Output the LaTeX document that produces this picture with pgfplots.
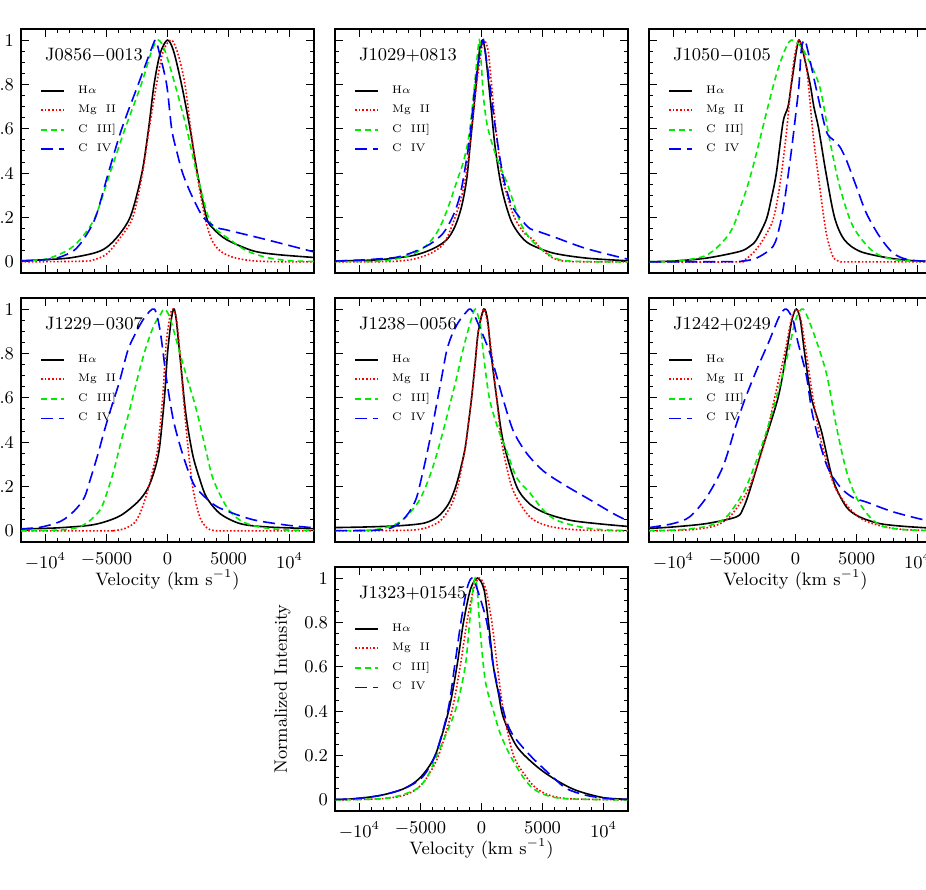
\documentclass[border=0pt]{standalone}
\usepackage{pgfplots}
\pgfplotsset{compat=1.18}
\definecolor{cg}{RGB}{0,235,0}
\pgfplotsset{
  panel/.style={
    scale only axis, width=146.5pt, height=122pt,
    xmin=-12000, xmax=12000, ymin=-0.05, ymax=1.05,
    xtick={-10000,-5000,0,5000,10000},
    xticklabels={$-10^4$,$-5000$,$0$,$5000$,$10^4$},
    ytick={0,0.2,0.4,0.6,0.8,1},
    yticklabels={0,0.2,0.4,0.6,0.8,1},
    minor x tick num=4, minor y tick num=3,
    tick align=inside, xtick pos=both, ytick pos=both,
    major tick length=4pt, minor tick length=2pt,
    axis line style={line width=0.6pt}, every tick/.style={black,line width=0.5pt},
    tick label style={font=\fontsize{9}{10}\selectfont},
    xticklabel style={yshift=-2pt},
    label style={font=\fontsize{9}{10}\selectfont},
    xlabel style={yshift=7pt},
    scaled x ticks=false,
    legend style={at={(rel axis cs:0.065,0.785)}, anchor=north west, draw=none, fill=none,
      font=\fontsize{5.5}{6}\selectfont, row sep=0.3pt, inner sep=0pt},
    legend cell align=left,
    legend image code/.code={\draw[##1] (0pt,0pt) -- (11.5pt,0pt);},
    /tikz/every odd column/.style={column sep=4.5pt},
  },
  nox/.style={xticklabels={}},
  noy/.style={yticklabels={}},
  ha/.style={black, line width=0.8pt, smooth, tension=0.5},
  mg/.style={red, line width=0.8pt, densely dotted, smooth, tension=0.5},
  c3/.style={cg, line width=0.8pt, dash pattern=on 3pt off 2pt, smooth, tension=0.5},
  c4/.style={blue, line width=0.8pt, dash pattern=on 6pt off 3pt, smooth, tension=0.5},
}
\newcommand{\ttl}[1]{\node[anchor=west,font=\fontsize{9}{10}\selectfont] at (rel axis cs:0.058,0.893) {#1};}
\newcommand{\leg}{\legend{H$\alpha$,Mg~~II,C~~III],C~~IV}}
\begin{document}
\begin{tikzpicture}
\useasboundingbox (0,0) rectangle (463pt,444.5pt);
\clip (0,0) rectangle (463pt,444.5pt);

% ---------------- J0856-0013
\begin{axis}[panel, nox, at={(10.5pt,430pt)}, anchor=north west]
\addplot[ha] coordinates {(-12000,0.005) (-10000,0.01) (-8000,0.018) (-6000,0.04) (-5000,0.065) (-4000,0.12) (-3000,0.21) (-2100,0.4) (-1550,0.6) (-1100,0.8) (-600,0.94) (0,1) (500,0.95) (1150,0.8) (1850,0.6) (2450,0.4) (3200,0.2) (3750,0.15) (4850,0.1) (7000,0.05) (9000,0.033) (12000,0.02)};
\addplot[mg] coordinates {(-12000,0) (-7000,0.003) (-6000,0.01) (-5000,0.035) (-4000,0.1) (-2850,0.2) (-2050,0.4) (-1500,0.6) (-900,0.8) (-350,0.95) (340,1) (900,0.93) (1430,0.8) (1900,0.6) (2400,0.4) (3070,0.2) (3620,0.1) (4300,0.05) (5400,0.02) (7000,0.005) (9000,0.001) (12000,0)};
\addplot[c3] coordinates {(-12000,0.005) (-10000,0.012) (-8265,0.05) (-7170,0.1) (-5940,0.2) (-4710,0.4) (-3480,0.6) (-2150,0.8) (-1300,0.95) (-750,1) (-200,0.95) (615,0.8) (1570,0.6) (2390,0.4) (3350,0.2) (3900,0.15) (5120,0.1) (6490,0.05) (8130,0.02) (10040,0.005) (12000,0.002)};
\addplot[c4] coordinates {(-12000,0.004) (-10000,0.01) (-8900,0.02) (-7700,0.05) (-6900,0.1) (-5900,0.2) (-4850,0.4) (-3750,0.6) (-2400,0.8) (-1250,0.97) (-970,1) (-700,0.95) (-70,0.8) (340,0.6) (750,0.5) (1240,0.4) (1980,0.3) (2940,0.2) (4030,0.155) (4850,0.144) (8130,0.1) (12000,0.045)};
\leg
\ttl{J0856$-$0013}
\end{axis}

% ---------------- J1029+0813
\begin{axis}[panel, nox, noy, at={(167.5pt,430pt)}, anchor=north west]
\addplot[ha] coordinates {(-12000,0.004) (-10500,0.006) (-8320,0.01) (-5590,0.029) (-3950,0.06) (-2850,0.1) (-2170,0.16) (-1630,0.25) (-1220,0.37) (-940,0.52) (-670,0.67) (-400,0.82) (-150,0.96) (96,1) (300,0.95) (560,0.82) (830,0.67) (1110,0.52) (1520,0.37) (1930,0.27) (2470,0.18) (3160,0.12) (3970,0.08) (5860,0.04) (8600,0.017) (12000,0.005)};
\addplot[mg] coordinates {(-12000,0) (-8000,0.001) (-6950,0.003) (-5590,0.012) (-4300,0.035) (-3400,0.065) (-2900,0.1) (-2300,0.18) (-1700,0.28) (-1250,0.4) (-820,0.6) (-410,0.8) (0,0.96) (220,1) (550,0.95) (820,0.8) (1170,0.6) (1640,0.4) (2100,0.3) (2700,0.2) (3500,0.13) (4230,0.1) (4770,0.065) (5860,0.017) (7200,0.002) (12000,0)};
\addplot[c3] coordinates {(-12000,0.001) (-8320,0.003) (-6950,0.014) (-5590,0.036) (-4500,0.074) (-3680,0.13) (-3130,0.19) (-2580,0.27) (-2040,0.36) (-1490,0.45) (-1080,0.55) (-800,0.67) (-530,0.82) (-180,1) (10,0.87) (150,0.75) (420,0.63) (830,0.54) (1380,0.45) (2060,0.36) (2610,0.27) (3160,0.18) (3700,0.125) (4230,0.09) (5320,0.04) (6400,0.01) (8000,0.002) (12000,0)};
\addplot[c4] coordinates {(-12000,0.004) (-10000,0.008) (-8320,0.014) (-6950,0.021) (-5590,0.044) (-4230,0.08) (-3130,0.13) (-2310,0.21) (-1760,0.3) (-1350,0.42) (-940,0.57) (-670,0.72) (-400,0.85) (96,1) (300,0.95) (680,0.8) (1145,0.6) (1720,0.4) (2180,0.3) (2610,0.24) (3420,0.18) (3970,0.15) (4500,0.14) (5860,0.114) (8590,0.06) (12000,0.012)};
\leg
\ttl{J1029+0813}
\end{axis}

% ---------------- J1050-0105
\begin{axis}[panel, nox, noy, at={(324.5pt,430pt)}, anchor=north west]
\addplot[ha] coordinates {(-12000,0.001) (-10000,0.004) (-7300,0.017) (-4570,0.047) (-3750,0.07) (-3200,0.1) (-2400,0.19) (-2000,0.28) (-1570,0.4) (-1020,0.63) (-610,0.7) (-340,0.8) (70,0.95) (290,1) (600,0.95) (1200,0.8) (1500,0.7) (1900,0.6) (2500,0.4) (3200,0.2) (4000,0.1) (5300,0.047) (7710,0.017) (10000,0.004) (12000,0.002)};
\addplot[mg] coordinates {(-12000,0) (-5000,0) (-4300,0.005) (-3480,0.04) (-2660,0.1) (-1840,0.19) (-1300,0.34) (-750,0.58) (-200,0.88) (290,1) (890,0.88) (1430,0.58) (1980,0.34) (2520,0.13) (3070,0.024) (3620,0.002) (4500,0) (12000,0)};
\addplot[c3] coordinates {(-12000,0.001) (-10000,0.003) (-7300,0.03) (-5390,0.13) (-4300,0.28) (-3480,0.43) (-2120,0.73) (-1430,0.87) (-750,0.97) (-340,1) (300,0.98) (890,0.93) (1980,0.79) (2800,0.55) (3620,0.34) (4710,0.16) (6350,0.047) (7990,0.012) (10000,0.002) (12000,0.001)};
\addplot[c4] coordinates {(-12000,0) (-6000,0.001) (-4570,0.002) (-3200,0.017) (-1840,0.07) (-1300,0.16) (-890,0.28) (-340,0.5) (70,0.69) (290,0.8) (480,0.96) (750,1) (1020,0.95) (1700,0.78) (2520,0.59) (3100,0.55) (3620,0.52) (4160,0.46) (4980,0.34) (5800,0.22) (6890,0.114) (7990,0.04) (9080,0.012) (10500,0.003) (12000,0.001)};
\leg
\ttl{J1050$-$0105}
\end{axis}

% ---------------- J1229-0307
\begin{axis}[panel, at={(10.5pt,295.5pt)}, anchor=north west, xlabel={Velocity (km s$^{-1}$)}]
\addplot[ha] coordinates {(-12000,0.009) (-9280,0.013) (-6550,0.024) (-5180,0.04) (-3820,0.07) (-2450,0.13) (-1630,0.19) (-1080,0.27) (-670,0.37) (-250,0.6) (0,0.8) (330,0.96) (530,1) (700,0.96) (890,0.86) (1160,0.71) (1430,0.56) (1710,0.45) (2120,0.33) (2660,0.23) (3210,0.15) (4300,0.078) (5940,0.033) (8100,0.018) (12000,0.01)};
\addplot[mg] coordinates {(-12000,0) (-5000,0) (-4360,0.0015) (-3540,0.01) (-2720,0.036) (-2170,0.09) (-1630,0.18) (-1220,0.27) (-810,0.37) (-400,0.6) (-100,0.85) (250,0.98) (480,1) (750,0.95) (1020,0.8) (1300,0.6) (1710,0.36) (2120,0.18) (2660,0.06) (3210,0.015) (3760,0.002) (5000,0) (12000,0)};
\addplot[c3] coordinates {(-12000,0) (-9280,0.003) (-7910,0.009) (-7090,0.021) (-6280,0.05) (-5460,0.1) (-4910,0.18) (-4360,0.28) (-3820,0.4) (-3270,0.51) (-2720,0.63) (-2170,0.75) (-1630,0.85) (-1080,0.93) (-530,0.98) (-250,1) (205,0.96) (1025,0.8) (1650,0.68) (2200,0.58) (2660,0.48) (3200,0.35) (3760,0.23) (4850,0.108) (5940,0.048) (7310,0.02) (9500,0.005) (12000,0.002)};
\addplot[c4] coordinates {(-12000,0.009) (-10370,0.017) (-8730,0.044) (-7640,0.09) (-6820,0.15) (-6280,0.24) (-5730,0.34) (-5180,0.45) (-4640,0.55) (-3950,0.67) (-3270,0.81) (-2720,0.88) (-1900,0.96) (-1080,1) (-600,0.9) (-70,0.68) (480,0.5) (1160,0.36) (1840,0.25) (2390,0.19) (3760,0.12) (4850,0.09) (7040,0.05) (9770,0.026) (12000,0.014)};
\leg
\ttl{J1229$-$0307}
\end{axis}

% ---------------- J1238-0056
\begin{axis}[panel, nox, noy, at={(167.5pt,295.5pt)}, anchor=north west]
\addplot[ha] coordinates {(-12000,0.015) (-9280,0.018) (-6540,0.024) (-4640,0.036) (-3540,0.066) (-2720,0.12) (-2170,0.19) (-1760,0.27) (-1350,0.37) (-1080,0.48) (-810,0.6) (-530,0.75) (-260,0.9) (200,1) (500,0.95) (780,0.8) (1240,0.6) (1790,0.4) (2880,0.2) (3980,0.12) (5340,0.078) (7250,0.048) (9440,0.033) (12000,0.02)};
\addplot[mg] coordinates {(-12000,0) (-6000,0.003) (-4360,0.017) (-3270,0.051) (-2450,0.12) (-1900,0.21) (-1350,0.37) (-1080,0.48) (-810,0.6) (-530,0.75) (-260,0.9) (150,1) (450,0.95) (830,0.8) (1240,0.6) (1650,0.4) (2470,0.2) (3430,0.1) (4250,0.05) (5620,0.02) (7800,0.005) (12000,0)};
\addplot[c3] coordinates {(-12000,0.001) (-9280,0.003) (-7910,0.014) (-6820,0.036) (-6000,0.074) (-5180,0.13) (-4640,0.19) (-4090,0.27) (-3540,0.37) (-3000,0.48) (-2450,0.6) (-2040,0.69) (-1630,0.79) (-1220,0.88) (-800,0.96) (-500,1) (-100,0.93) (150,0.8) (640,0.6) (1300,0.47) (2060,0.36) (2880,0.24) (3980,0.17) (5070,0.093) (6160,0.048) (8070,0.018) (9990,0.005) (12000,0.002)};
\addplot[c4] coordinates {(-12000,0.001) (-8730,0.003) (-7370,0.014) (-6540,0.044) (-5860,0.09) (-5320,0.15) (-4910,0.24) (-4500,0.34) (-4090,0.45) (-3680,0.57) (-3270,0.69) (-2860,0.81) (-2450,0.88) (-1900,0.94) (-1350,0.98) (-900,1) (-400,0.95) (700,0.8) (1790,0.59) (2610,0.45) (3700,0.35) (5070,0.27) (6710,0.21) (8890,0.14) (10800,0.078) (12000,0.045)};
\leg
\ttl{J1238$-$0056}
\end{axis}

% ---------------- J1242+0249
\begin{axis}[panel, noy, at={(324.5pt,295.5pt)}, anchor=north west, xlabel={Velocity (km s$^{-1}$)}]
\addplot[ha] coordinates {(-12000,0.011) (-10000,0.018) (-7300,0.033) (-4850,0.063) (-4300,0.1) (-3760,0.18) (-2660,0.38) (-1430,0.6) (-750,0.8) (-300,0.95) (70,1) (400,0.95) (750,0.8) (1300,0.6) (2120,0.45) (3070,0.23) (4170,0.108) (5260,0.063) (6900,0.033) (9000,0.02) (12000,0.01)};
\addplot[mg] coordinates {(-12000,0) (-8680,0.005) (-6760,0.02) (-5670,0.05) (-4850,0.1) (-3760,0.2) (-2530,0.4) (-1710,0.6) (-890,0.8) (-350,0.95) (70,1) (450,0.95) (890,0.8) (1430,0.6) (2120,0.4) (3210,0.2) (4440,0.1) (5530,0.05) (7170,0.02) (9090,0.005) (12000,0.001)};
\addplot[c3] coordinates {(-12000,0.001) (-9500,0.005) (-7310,0.02) (-5940,0.05) (-5120,0.1) (-4030,0.2) (-2660,0.4) (-1570,0.6) (-615,0.8) (0,0.95) (615,1) (1430,0.9) (2530,0.71) (3350,0.47) (4170,0.27) (4990,0.15) (6080,0.063) (7170,0.02) (9090,0.005) (12000,0.001)};
\addplot[c4] coordinates {(-12000,0.015) (-10040,0.033) (-8680,0.063) (-7310,0.15) (-5940,0.29) (-4850,0.48) (-4100,0.6) (-3000,0.75) (-2200,0.85) (-1300,0.97) (-750,1) (-200,0.95) (200,0.85) (890,0.7) (1430,0.515) (2530,0.3) (3620,0.2) (4710,0.15) (5810,0.13) (7990,0.086) (10670,0.048) (12000,0.04)};
\leg
\ttl{J1242+0249}
\end{axis}

% ---------------- J1323+01545
\begin{axis}[panel, at={(167.5pt,161pt)}, anchor=north west, xlabel={Velocity (km s$^{-1}$)}, ylabel={Normalized Intensity}]
\addplot[ha] coordinates {(-12000,0.002) (-10490,0.005) (-8310,0.02) (-6390,0.05) (-5030,0.1) (-3800,0.2) (-2700,0.4) (-2020,0.6) (-1480,0.8) (-900,0.95) (-330,1) (200,0.95) (570,0.8) (980,0.6) (1390,0.48) (1800,0.37) (2900,0.24) (4540,0.15) (6180,0.087) (7810,0.042) (10000,0.01) (12000,0.003)};
\addplot[mg] coordinates {(-12000,0) (-8310,0.005) (-6390,0.02) (-5300,0.05) (-4480,0.1) (-3520,0.2) (-2430,0.4) (-1750,0.6) (-1200,0.8) (-650,0.95) (-164,1) (350,0.95) (850,0.8) (1300,0.6) (1800,0.4) (2620,0.2) (3720,0.1) (4540,0.05) (5630,0.02) (7270,0.005) (12000,0)};
\addplot[c3] coordinates {(-12000,0) (-8310,0.005) (-6670,0.02) (-5300,0.05) (-4480,0.1) (-3660,0.2) (-2160,0.4) (-1340,0.6) (-980,0.8) (-700,0.95) (-520,1) (-350,0.95) (-164,0.8) (164,0.6) (440,0.5) (980,0.4) (1530,0.3) (2350,0.2) (3440,0.1) (4260,0.05) (5360,0.02) (7000,0.005) (12000,0)};
\addplot[c4] coordinates {(-12000,0.002) (-10490,0.005) (-8310,0.02) (-6390,0.05) (-4890,0.1) (-3800,0.2) (-2760,0.4) (-2210,0.6) (-1690,0.8) (-1200,0.95) (-790,1) (-350,0.95) (440,0.8) (980,0.6) (1800,0.4) (2490,0.3) (3990,0.2) (5900,0.1) (7000,0.05) (8630,0.02) (10550,0.005) (12000,0.002)};
\leg
\ttl{J1323+01545}
\end{axis}
\end{tikzpicture}
\end{document}
